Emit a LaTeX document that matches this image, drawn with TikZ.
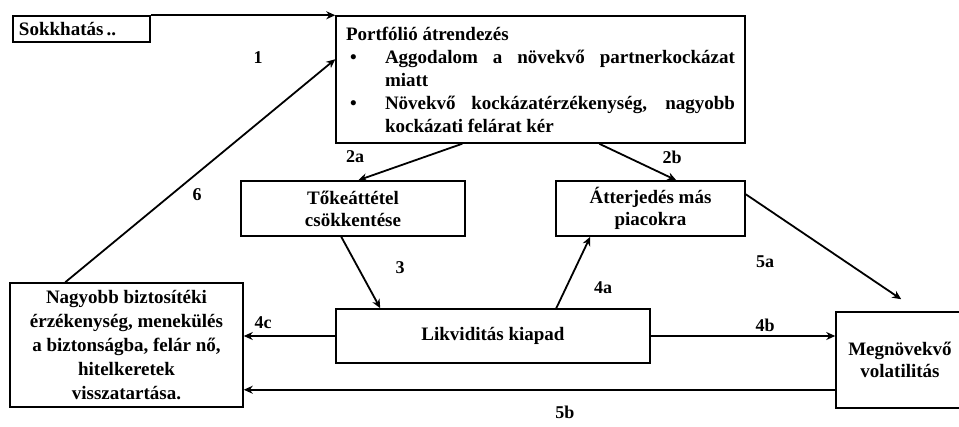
\documentclass[tikz,border=0pt]{standalone}
\usepackage{fontspec}
\setmainfont{Liberation Serif}
\usetikzlibrary{arrows.meta,calc}
\begin{document}
\begin{tikzpicture}[x=1pt,y=-1pt,
  box/.style={draw,line width=1.5pt,inner sep=0pt,font=\bfseries\fontsize{19}{23}\selectfont},
  conn/.style={line width=1.8pt,-{Stealth[length=9pt,width=8pt]}},
  lab/.style={font=\bfseries\fontsize{18}{20}\selectfont,inner sep=0pt}]
\useasboundingbox (0,0) rectangle (959,426);
\node[box,minimum height=26pt,text width=125pt,inner xsep=6pt,align=left] (sok) at (81.5,29) {Sokkhatás\,..};
\node[box,minimum height=127pt,text width=389pt,inner xsep=10pt,align=justify] (port) at (540.5,79.5)
 {\hyphenpenalty=10000 Portfólió átrendezés\par
  \hangindent=39pt\hangafter=1\makebox[39pt][l]{\hspace{4pt}\textbullet}Aggodalom a növekvő partnerkockázat\linebreak miatt\par
  \hangindent=39pt\hangafter=1\makebox[39pt][l]{\hspace{4pt}\textbullet}Növekvő kockázatérzékenység, nagyobb\linebreak kockázati felárat kér\par};
\node[box,minimum width=224pt,minimum height=55pt,align=center,font=\bfseries\fontsize{19}{22}\selectfont] (tok) at (353,208.5) {Tőkeáttétel\\csökkentése};
\node[box,minimum width=189pt,minimum height=55pt,align=center,font=\bfseries\fontsize{19}{22}\selectfont] (att) at (650.5,208.5) {Átterjedés más\\piacokra};
\node[box,minimum width=314pt,minimum height=54pt] (liq) at (493,336) {Likviditás kiapad};
\node[box,minimum width=233pt,minimum height=124pt,align=center,font=\bfseries\fontsize{19}{24}\selectfont] (left) at (126.5,345)
 {Nagyobb biztosítéki\\érzékenység, menekülés\\a biztonságba, felár nő,\\hitelkeretek\\visszatartása.};
\node[box,minimum width=128pt,minimum height=96pt,align=center,font=\bfseries\fontsize{19}{22}\selectfont] (megn) at (900,360) {Megnövekvő\\volatilitás};
\draw[conn] (sok.north east) -- (port.north west);
\draw[conn] ($(left.north west)+(56,0)$) -- ($(port.north west)+(0,44)$);
\draw[conn] ($(port.south west)+(127,0)$) -- ($(tok.north west)+(118,0)$);
\draw[conn] ($(port.south west)+(264,0)$) -- ($(att.north west)+(121,0)$);
\draw[conn] ($(tok.south west)+(101,0)$) -- ($(liq.north west)+(45,0)$);
\draw[conn] ($(liq.north west)+(221,0)$) -- ($(att.south west)+(35,0)$);
\draw[conn] (liq.east) -- (liq.east -| megn.west);
\draw[conn] (liq.west) -- (liq.west -| left.east);
\coordinate (end5a) at ($(megn.north west)+(66,-12)$);
\draw[conn] ($(att.north east)+(0,14)$) -- (end5a);
\coordinate (s5b) at ($(megn.south west)+(0,-19)$);
\draw[conn] (s5b) -- (s5b -| left.east);
\node[lab] (l1) at (258,58) {1};
\node[lab] (l6) at (197,195) {6};
\node[lab] (l2a) at (355,157) {2a};
\node[lab] (l2b) at (672,157) {2b};
\node[lab] (l3) at (400,268) {3};
\node[lab] (l4a) at (603,288) {4a};
\node[lab] (l4b) at (765,325) {4b};
\node[lab] (l4c) at (263,323) {4c};
\node[lab] (l5a) at (765,262) {5a};
\node[lab] (l5b) at (565,412) {5b};
\end{tikzpicture}
\end{document}
